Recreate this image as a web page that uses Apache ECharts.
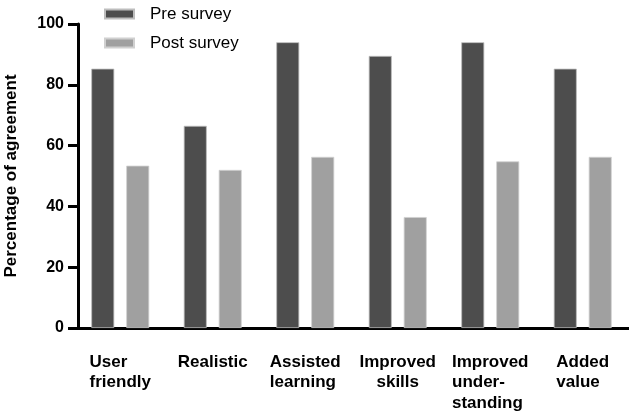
<!DOCTYPE html>
<html>
<head>
<meta charset="utf-8">
<script src="https://cdn.jsdelivr.net/npm/echarts@6/dist/echarts.min.js"></script>
<style>html,body{margin:0;padding:0;background:#fff}#c{width:629px;height:414px}</style>
</head>
<body>
<div id="c"></div>
<script>
const categories = ['User\nfriendly', 'Realistic', 'Assisted\nlearning', 'Improved\nskills', 'Improved\nunder-\nstanding', 'Added\nvalue'];
const centeredLabels = ['Improved\nskills'];
const preSurvey = [85.3, 66.5, 94.0, 89.5, 94.0, 85.3];
const postSurvey = [53.4, 52.0, 56.3, 36.5, 54.8, 56.3];
const yTicks = { min: 0, max: 100, interval: 20 };
const seriesNames = ['Pre survey', 'Post survey'];
const yTitle = 'Percentage of agreement';

const chart = echarts.init(document.getElementById('c'));
chart.setOption({
  animation: false,
  textStyle: { fontFamily: 'Liberation Sans' },
  grid: { left: 74, right: 0, top: 24, bottom: 86, outerBoundsMode: 'none' },
  legend: {
    left: 99, top: -1, orient: 'vertical',
    itemWidth: 29, itemHeight: 9, itemGap: 9,
    icon: 'rect',
    data: seriesNames,
    textStyle: { fontSize: 17, color: '#000', padding: [0, 0, 0, 11], lineHeight: 20 }
  },
  xAxis: {
    type: 'category',
    data: categories,
    axisLine: { lineStyle: { color: '#000000', width: 3 } },
    axisTick: { alignWithLabel: true, length: 12, lineStyle: { color: '#000000', width: 3 } },
    axisLabel: {
      interval: 0, margin: 24, align: 'center',
      fontWeight: 'bold', fontSize: 17, color: '#000', lineHeight: 20.5,
      formatter: function (v) {
        const style = centeredLabels.indexOf(v) >= 0 ? 'c' : 'l';
        return v.split('\n').map(s => '{' + style + '|' + s + '}').join('\n');
      },
      rich: {
        l: { align: 'left', fontWeight: 'bold', fontSize: 17, color: '#000', lineHeight: 20.5 },
        c: { align: 'center', fontWeight: 'bold', fontSize: 17, color: '#000', lineHeight: 20.5 }
      }
    }
  },
  yAxis: {
    type: 'value',
    offset: -4,
    min: yTicks.min, max: yTicks.max, interval: yTicks.interval,
    name: yTitle,
    nameLocation: 'middle',
    nameGap: 58,
    nameTextStyle: { fontWeight: 'bold', fontSize: 17, color: '#000' },
    axisLine: { show: true, lineStyle: { color: '#000000', width: 3 } },
    axisTick: { show: true, length: 10, lineStyle: { color: '#000000', width: 3 } },
    axisLabel: { margin: 14, fontWeight: 'bold', fontSize: 16, color: '#000' },
    splitLine: { show: false }
  },
  series: [
    {
      name: seriesNames[0], type: 'bar', data: preSurvey,
      barWidth: 23, barGap: '52%',
      itemStyle: { color: '#4d4d4d', borderColor: '#bdbdbd', borderWidth: 0.8 }
    },
    {
      name: seriesNames[1], type: 'bar', data: postSurvey,
      barWidth: 23, barGap: '52%',
      itemStyle: { color: '#a0a0a0', borderColor: '#d0d0d0', borderWidth: 0.8 }
    }
  ]
});
</script>
</body>
</html>
